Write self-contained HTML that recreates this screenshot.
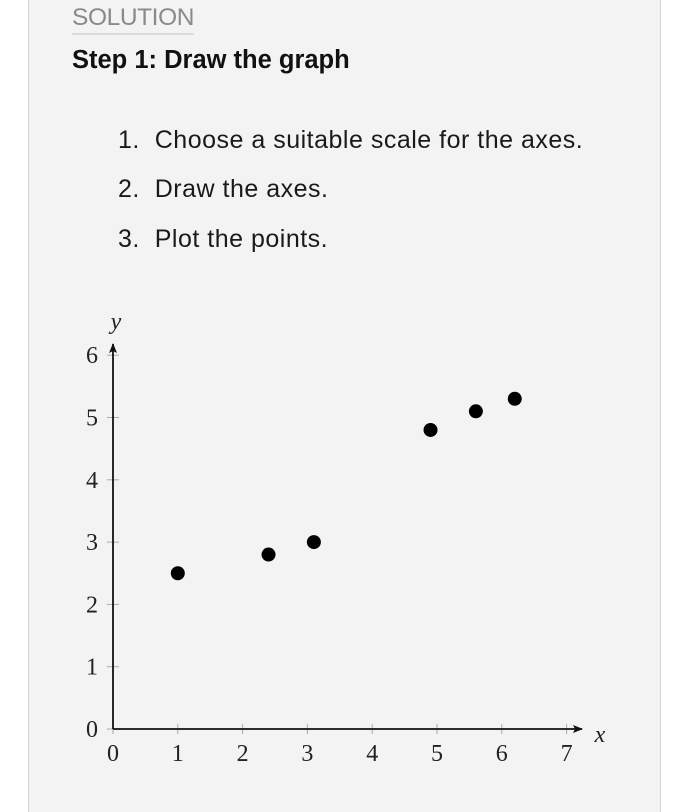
<!DOCTYPE html>
<html><head><meta charset="utf-8"><style>
html,body{margin:0;padding:0;background:#fff;width:682px;height:812px;overflow:hidden}
#panel{position:absolute;left:28px;top:0;width:631px;height:812px;background:#f3f3f3;border-left:1.5px solid #d4d4d4;border-right:1.5px solid #d4d4d4}
.t{position:absolute;font-family:"Liberation Sans",sans-serif;white-space:nowrap}
.li{font-size:25px;color:#1a1a1a;letter-spacing:0.5px}
</style></head><body>
<div id="panel"></div>
<div class="t" style="left:72px;top:4px;font-size:24.5px;color:#8a8a8a;letter-spacing:-0.4px;border-bottom:2px solid #dcdcdc;padding-bottom:1px">SOLUTION</div>
<div class="t" style="left:72px;top:46px;font-size:25.5px;font-weight:bold;color:#111;letter-spacing:0px">Step 1: Draw the graph</div>
<div class="t li" style="left:118px;top:126px">1.&nbsp;&nbsp;Choose a suitable scale for the axes.</div>
<div class="t li" style="left:118px;top:175px">2.&nbsp;&nbsp;Draw the axes.</div>
<div class="t li" style="left:118px;top:225px">3.&nbsp;&nbsp;Plot the points.</div>
<svg id="chart" width="682" height="812" style="position:absolute;left:0;top:0">
<defs><marker id="ar" markerWidth="10" markerHeight="8" refX="9" refY="4" orient="auto" markerUnits="userSpaceOnUse"><path d="M0,0 L10,4 L0,8 L2,4 Z" fill="#111"/></marker></defs>
</svg>
<script>
const xValues=[1,2.4,3.1,4.9,5.6,6.2];
const yValues=[2.5,2.8,3.0,4.8,5.1,5.3];
const xTicks=[0,1,2,3,4,5,6,7];
const yTicks=[0,1,2,3,4,5,6];
const X0=113,XS=64.8,Y0=729,YS=62.3;
const sx=v=>X0+v*XS, sy=v=>Y0-v*YS;
const svg=document.getElementById('chart');
const NS='http://www.w3.org/2000/svg';
function mk(tag,attrs){const e=document.createElementNS(NS,tag);for(const k in attrs)e.setAttribute(k,attrs[k]);svg.appendChild(e);return e;}
const f='"Liberation Serif",serif';
xTicks.forEach(v=>{
 const tk=mk('line',{x1:sx(v),x2:sx(v),y1:Y0-5,y2:Y0+5,stroke:'#aaa','stroke-width':1});
 
 
 const t=mk('text',{x:sx(v),y:Y0+32,'text-anchor':'middle','font-family':f,'font-size':24,fill:'#222'});
 t.textContent=v;
 
 
});
yTicks.forEach(v=>{
 const tk=mk('line',{x1:X0-6,x2:X0+6,y1:sy(v),y2:sy(v),stroke:'#aaa','stroke-width':1});
 
 
 const t=mk('text',{x:98,y:sy(v)+8,'text-anchor':'end','font-family':f,'font-size':24,fill:'#222'});
 t.textContent=v;
 
 
});
const xa=mk('line',{x1:X0,y1:Y0,x2:582,y2:Y0,stroke:'#111','stroke-width':1.8,'marker-end':'url(#ar)'});


const ya=mk('line',{x1:X0,y1:Y0,x2:X0,y2:344,stroke:'#111','stroke-width':1.8,'marker-end':'url(#ar)'});


const xl=mk('text',{x:600,y:742,'text-anchor':'middle','font-family':f,'font-style':'italic','font-size':24,fill:'#222'});
xl.textContent='x';


const yl=mk('text',{x:116,y:329,'text-anchor':'middle','font-family':f,'font-style':'italic','font-size':24,fill:'#222'});
yl.textContent='y';


xValues.forEach((v,i)=>{
 const c=mk('circle',{cx:sx(v),cy:sy(yValues[i]),r:7,fill:'#000'});
 
 
});
</script>
</body></html>
